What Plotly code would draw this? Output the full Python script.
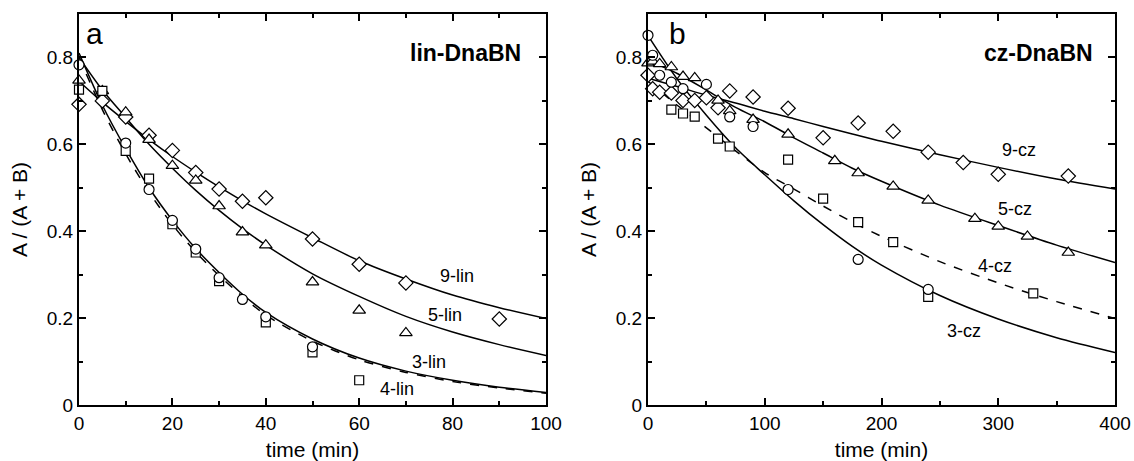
import plotly.graph_objects as go

# ---------------- Panel a: lin-DnaBN ----------------
a3_t = [0, 10, 15, 20, 25, 30, 35, 40, 50]
a3_y = [0.783, 0.603, 0.496, 0.425, 0.359, 0.293, 0.243, 0.203, 0.134]
a4_t = [0, 5, 10, 15, 20, 25, 30, 40, 50, 60]
a4_y = [0.726, 0.723, 0.585, 0.521, 0.416, 0.351, 0.285, 0.190, 0.121, 0.057]
a5_t = [0, 5, 10, 15, 20, 25, 30, 35, 40, 50, 60, 70]
a5_y = [0.747, 0.723, 0.674, 0.611, 0.551, 0.517, 0.458, 0.398, 0.368, 0.283, 0.218, 0.166]
a9_t = [0, 5, 10, 15, 20, 25, 30, 35, 40, 50, 60, 70, 90]
a9_y = [0.692, 0.700, 0.663, 0.621, 0.586, 0.535, 0.497, 0.469, 0.477, 0.382, 0.324, 0.281, 0.198]

fa_t = [0, 5, 10, 15, 20, 25, 30, 35, 40, 50, 60, 70, 80, 90, 100]
fa3 = [0.81, 0.69, 0.59, 0.50, 0.425, 0.36, 0.305, 0.255, 0.213, 0.152, 0.108, 0.078, 0.057, 0.041, 0.029]
fa4 = [0.80, 0.68, 0.578, 0.49, 0.415, 0.352, 0.298, 0.25, 0.207, 0.147, 0.104, 0.075, 0.054, 0.039, 0.027]
fa5 = [0.80, 0.725, 0.662, 0.60, 0.545, 0.494, 0.448, 0.406, 0.368, 0.302, 0.25, 0.204, 0.168, 0.139, 0.114]
fa9 = [0.745, 0.697, 0.653, 0.611, 0.572, 0.536, 0.502, 0.470, 0.440, 0.385, 0.332, 0.29, 0.253, 0.224, 0.199]

# ---------------- Panel b: cz-DnaBN ----------------
b3_t = [0, 4, 10, 20, 30, 50, 70, 90, 120, 180, 240]
b3_y = [0.851, 0.805, 0.759, 0.743, 0.728, 0.738, 0.663, 0.641, 0.496, 0.335, 0.266]
b4_t = [20, 30, 40, 60, 70, 120, 150, 180, 210, 240, 330]
b4_y = [0.680, 0.671, 0.664, 0.613, 0.595, 0.565, 0.475, 0.421, 0.375, 0.249, 0.257]
b5_t = [0, 4, 10, 20, 30, 40, 60, 70, 90, 120, 160, 180, 210, 240, 280, 300, 325, 360]
b5_y = [0.787, 0.791, 0.785, 0.778, 0.756, 0.753, 0.701, 0.677, 0.657, 0.623, 0.562, 0.534, 0.503, 0.471, 0.429, 0.411, 0.388, 0.351]
b9_t = [0, 4, 10, 20, 30, 40, 50, 60, 70, 90, 120, 150, 180, 210, 240, 270, 300, 360]
b9_y = [0.759, 0.728, 0.720, 0.718, 0.701, 0.701, 0.707, 0.684, 0.723, 0.709, 0.683, 0.615, 0.649, 0.630, 0.582, 0.558, 0.531, 0.527]

fb_t = [0, 25, 50, 75, 100, 125, 150, 175, 200, 250, 300, 350, 400]
fb3 = [0.85, 0.75, 0.667, 0.592, 0.53, 0.47, 0.415, 0.365, 0.322, 0.252, 0.198, 0.155, 0.121]
fb4 = [0.745, 0.69, 0.638, 0.585, 0.535, 0.497, 0.458, 0.421, 0.388, 0.33, 0.281, 0.238, 0.199]
fb5 = [0.793, 0.763, 0.725, 0.685, 0.652, 0.615, 0.58, 0.545, 0.515, 0.46, 0.413, 0.368, 0.328]
fb9 = [0.752, 0.733, 0.713, 0.695, 0.676, 0.659, 0.641, 0.624, 0.607, 0.576, 0.547, 0.52, 0.497]

y_ticks = [0, 0.2, 0.4, 0.6, 0.8]
y_ticktext = ["0", "0.2", "0.4", "0.6", "0.8"]
xa_ticks = [0, 20, 40, 60, 80, 100]
xb_ticks = [0, 100, 200, 300, 400]

FONT = "Liberation Sans"
W, H = 1134, 461

fig = go.Figure()

def markers(x, y, sym, size, xa, ya):
    fig.add_trace(go.Scatter(
        x=x, y=y, mode="markers", xaxis=xa, yaxis=ya, cliponaxis=False,
        marker=dict(symbol=sym, size=size, color="white",
                    line=dict(color="black", width=1.2)),
        showlegend=False, hoverinfo="skip"))

def curve(x, y, dash, xa, ya):
    fig.add_trace(go.Scatter(
        x=x, y=y, mode="lines", xaxis=xa, yaxis=ya,
        line=dict(color="black", width=1.5, dash=dash, shape="spline", smoothing=0.8),
        showlegend=False, hoverinfo="skip"))

# panel a
curve(fa_t, fa3, "solid", "x", "y")
curve(fa_t, fa4, "dash", "x", "y")
curve(fa_t, fa5, "solid", "x", "y")
curve(fa_t, fa9, "solid", "x", "y")
markers(a9_t, a9_y, "diamond", 11, "x", "y")
markers(a5_t, a5_y, "triangle-up", 11, "x", "y")
markers(a4_t, a4_y, "square", 9, "x", "y")
markers(a3_t, a3_y, "circle", 10, "x", "y")

# panel b
curve(fb_t, fb3, "solid", "x2", "y2")
curve(fb_t, fb4, "dash", "x2", "y2")
curve(fb_t, fb5, "solid", "x2", "y2")
curve(fb_t, fb9, "solid", "x2", "y2")
markers(b9_t, b9_y, "diamond", 11, "x2", "y2")
markers(b5_t, b5_y, "triangle-up", 11, "x2", "y2")
markers(b4_t, b4_y, "square", 9, "x2", "y2")
markers(b3_t, b3_y, "circle", 10, "x2", "y2")

def px_x(p):
    return p / W

def px_y(p):
    return 1 - p / H

ydom = [px_y(405), px_y(14)]

axis_common = dict(
    showline=True, linecolor="black", linewidth=2, mirror="allticks",
    ticks="inside", ticklen=7, tickwidth=2, tickcolor="black",
    showgrid=False, zeroline=False, automargin=False,
    tickfont=dict(family=FONT, size=19, color="black"),
    title_font=dict(family=FONT, size=21, color="black"),
)
minor_common = dict(ticks="inside", ticklen=4, tickwidth=2, tickcolor="black")

fig.update_layout(
    width=W, height=H, margin=dict(l=0, r=0, t=0, b=0),
    paper_bgcolor="white", plot_bgcolor="white",
    font=dict(family=FONT, color="black"),
    xaxis=dict(domain=[px_x(79), px_x(546)], range=[0, 100], anchor="y",
               tickvals=xa_ticks, title=dict(text="time (min)", standoff=12),
               minor=dict(dtick=10, **minor_common), **axis_common),
    yaxis=dict(domain=ydom, range=[0, 0.9], anchor="x",
               tickvals=y_ticks, ticktext=y_ticktext,
               title=dict(text="A / (A + B)", standoff=13),
               minor=dict(dtick=0.1, tick0=0, **minor_common), **axis_common),
    xaxis2=dict(domain=[px_x(648), px_x(1115)], range=[0, 400], anchor="y2",
                tickvals=xb_ticks, title=dict(text="time (min)", standoff=12),
                minor=dict(dtick=50, **minor_common), **axis_common),
    yaxis2=dict(domain=ydom, range=[0, 0.9], anchor="x2",
                tickvals=y_ticks, ticktext=y_ticktext,
                title=dict(text="A / (A + B)", standoff=13),
                minor=dict(dtick=0.1, tick0=0, **minor_common), **axis_common),
)

def label(text, x, y, xref, yref, size=18, xanchor="center", bold=False):
    fig.add_annotation(text=("<b>%s</b>" % text) if bold else text, x=x, y=y, xref=xref, yref=yref,
                       showarrow=False, xanchor=xanchor, yanchor="middle",
                       font=dict(family=FONT, size=size, color="black"))

label("a", 3.4, 0.855, "x", "y", size=30)
label("b", 25.5, 0.855, "x2", "y2", size=30)
label("lin-DnaBN", 95, 0.81, "x", "y", size=23, xanchor="right", bold=True)
label("cz-DnaBN", 383, 0.81, "x2", "y2", size=23, xanchor="right", bold=True)

label("9-lin", 81, 0.297, "x", "y")
label("5-lin", 78.4, 0.207, "x", "y")
label("3-lin", 75, 0.10, "x", "y")
label("4-lin", 68, 0.036, "x", "y")

label("9-cz", 318, 0.586, "x2", "y2")
label("5-cz", 314, 0.452, "x2", "y2")
label("4-cz", 297, 0.32, "x2", "y2")
label("3-cz", 271, 0.171, "x2", "y2")

# remove the default page margin so the figure fills the window exactly
fig.write_html("out.html",
               config={"displayModeBar": False, "staticPlot": True},
               post_script="document.body.style.margin='0';document.body.style.overflow='hidden';"
                           "document.documentElement.style.overflow='hidden';")
